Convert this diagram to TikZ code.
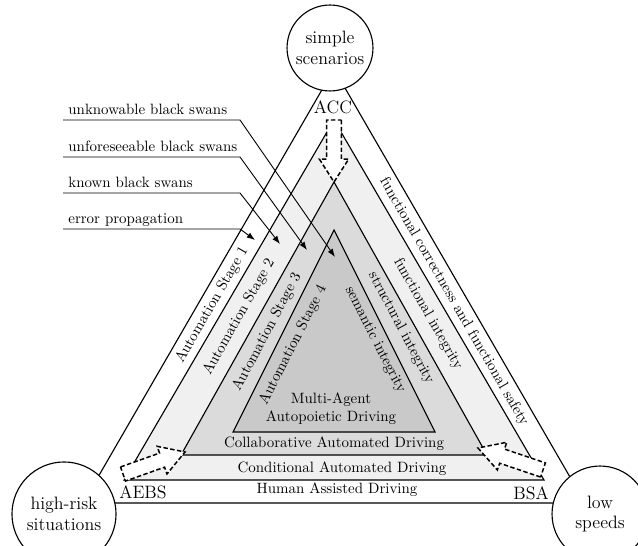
\documentclass[tikz,border=0pt]{standalone}
\usetikzlibrary{calc,arrows.meta}
\newcommand{\hollowarrow}[2]{%
  \coordinate (ha-t) at #1;
  \coordinate (ha-p) at #2;
  \coordinate (ha-h) at ($(ha-t)!0.63!(ha-p)$);
  \draw[hollow] ($(ha-t)!5pt!90:(ha-p)$) -- ($(ha-h)!5pt!90:(ha-p)$) -- ($(ha-h)!9.8pt!90:(ha-p)$)
    -- (ha-p) -- ($(ha-h)!9.8pt!-90:(ha-p)$) -- ($(ha-h)!5pt!-90:(ha-p)$) -- ($(ha-t)!5pt!-90:(ha-p)$) -- cycle;}
\begin{document}
\begin{tikzpicture}[x=0.669pt,y=-0.669pt,
  tri/.style={draw=black, line width=0.75pt, line join=miter},
  bandtext/.style={inner sep=0pt},
  vlabel/.style={font=\large, inner sep=0pt},
  zone/.style={circle, draw, line width=0.75pt, fill=white, align=center, font=\large, inner sep=0pt},
  hollow/.style={draw, fill=white, line width=1pt, dash pattern=on 3pt off 1.6pt, line join=miter},
  swan/.style={anchor=south west, inner sep=0pt, text height=1.5ex, text depth=0.25ex, xshift=3.4pt, yshift=2.5pt},
  swanline/.style={line width=0.6pt, -{Latex[length=5.5pt,width=4pt]}},
]
\clip (0,0) rectangle (638,546);
\useasboundingbox (0,0) rectangle (638,546);

% triangles
\coordinate (A1) at (334,69);  \coordinate (B1) at (83,503);  \coordinate (C1) at (585,503);
\coordinate (A2) at (334,120); \coordinate (B2) at (124,480); \coordinate (C2) at (544,480);
\coordinate (A3) at (334,182); \coordinate (B3) at (181,455); \coordinate (C3) at (487,455);
\coordinate (A4) at (334,230); \coordinate (B4) at (233,432); \coordinate (C4) at (435,432);
\draw[tri, fill=white]    (A1) -- (B1) -- (C1) -- cycle;
\draw[tri, fill=black!6]  (A2) -- (B2) -- (C2) -- cycle;
\draw[tri, fill=black!14] (A3) -- (B3) -- (C3) -- cycle;
\draw[tri, fill=black!21] (A4) -- (B4) -- (C4) -- cycle;

% bottom band texts
\node[bandtext] (hum) at (337,490) {Human Assisted Driving};
\node[bandtext] (con) at (342,469) {Conditional Automated Driving};
\node[bandtext] (col) at (334,444) {Collaborative Automated Driving};
\node[bandtext, align=center] (mul) at (331,409) {Multi-Agent\\Autopoietic Driving};

% left band texts
\node[bandtext, rotate=60]   (s1) at (212,305) {Automation Stage 1};
\node[bandtext, rotate=60.5] (s2) at (239,317) {Automation Stage 2};
\node[bandtext, rotate=62]   (s3) at (267,332) {Automation Stage 3};
\node[bandtext, rotate=63]   (s4) at (293,345) {Automation Stage 4};

% right band texts
\node[bandtext, rotate=-60]   (r1) at (454,302) {functional correctness and functional safety};
\node[bandtext, rotate=-60.5] (r2) at (428,314) {functional integrity};
\node[bandtext, rotate=-62]   (r3) at (401,328) {structural integrity};
\node[bandtext, rotate=-63]   (r4) at (375,340) {semantic integrity};

% dashed hollow arrows
\hollowarrow{(334,120)}{(A3)}
\hollowarrow{(123,474)}{(185,452)}
\hollowarrow{(543,470)}{(478,448)}

% vertex labels
\node[vlabel] (acc) at (333,107) {ACC};
\node[vlabel] (aebs) at (143,492) {AEBS};
\node[vlabel] (bsa) at (531,493) {BSA};

% circles
\node[zone, minimum size=57.5pt] (simple) at (330,48) {simple\\scenarios};
\node[zone, minimum size=69.6pt] (risk) at (64,514) {high-risk\\situations};
\node[zone, minimum size=64.2pt] (low) at (600,514) {low\\speeds};

% black swan labels
\coordinate (bend) at (240,0);
\coordinate (t1) at (335,257);
\coordinate (t2) at (307,250);
\coordinate (t3) at (280,244);
\coordinate (t4) at (255,240);
\node[swan] (l1) at (63,120) {unknowable black swans};
\node[swan] (l2) at (63,157) {unforeseeable black swans};
\node[swan] (l3) at (63,193) {known black swans};
\node[swan] (l4) at (63,229) {error propagation};
\draw[swanline] (63,120) -- (bend |- 63,120) -- (t1);
\draw[swanline] (63,157) -- (bend |- 63,157) -- (t2);
\draw[swanline] (63,193) -- (bend |- 63,193) -- (t3);
\draw[swanline] (63,229) -- (bend |- 63,229) -- (t4);
\end{tikzpicture}
\end{document}
